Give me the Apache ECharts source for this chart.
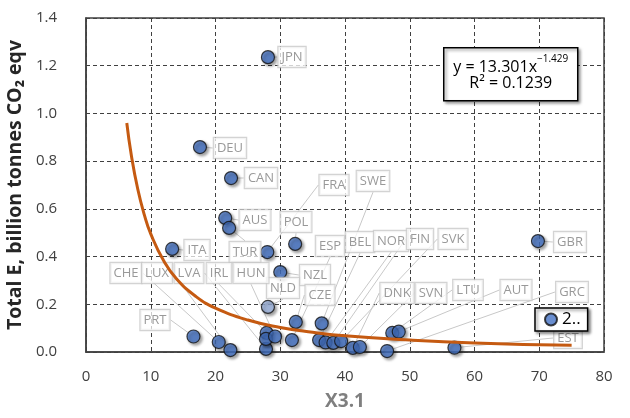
<!DOCTYPE html>
<html>
<head>
<meta charset="utf-8">
<script src="https://cdn.jsdelivr.net/npm/echarts@6/dist/echarts.min.js"></script>
<style>
  html, body { margin: 0; padding: 0; background: #fff; }
  #chart { width: 630px; height: 418px; }
</style>
</head>
<body>
<div id="chart"></div>
<script>
// countries and values
var names = ['JPN', 'DEU', 'CAN', 'AUS', 'TUR', 'POL', 'FRA', 'ITA', 'GBR', 'NZL', 'NLD',
  'SWE', 'CZE', 'PRT', 'CHE', 'LUX', 'LVA', 'IRL', '', 'HUN', 'ESP', 'BEL', 'NOR',
  'FIN', 'SVK', 'DNK', 'SVN', 'GRC', 'LTU', 'AUT', 'EST'];
var xVals = [28.1, 17.6, 22.4, 21.5, 22.1, 32.3, 28.0, 13.3, 69.8, 30.0, 28.1,
  36.4, 32.4, 16.6, 20.5, 22.3, 27.8, 27.9, 27.8, 29.2, 31.8, 36.0, 37.0,
  38.2, 39.4, 41.2, 42.3, 46.5, 47.3, 48.3, 56.9];
var yVals = [1.236, 0.859, 0.729, 0.562, 0.520, 0.453, 0.419, 0.432, 0.465, 0.335, 0.189,
  0.120, 0.126, 0.065, 0.042, 0.008, 0.013, 0.080, 0.055, 0.065, 0.050, 0.050, 0.040,
  0.038, 0.046, 0.017, 0.021, 0.004, 0.080, 0.085, 0.018];

// trend curve (power fit)
var trendX = [6.3, 7, 8, 9, 10, 12, 14, 17, 20, 25, 30, 35, 40, 50, 60, 75];
var trendY = [0.96, 0.825, 0.682, 0.576, 0.495, 0.382, 0.306, 0.232, 0.184, 0.134, 0.103,
  0.083, 0.068, 0.050, 0.038, 0.028];

var xTicks = [0, 10, 20, 30, 40, 50, 60, 70, 80];
var yTicks = [0.0, 0.2, 0.4, 0.6, 0.8, 1.0, 1.2, 1.4];

// where the label boxes sit (pixel centres)
var labelAt = {
  JPN: [292, 57], DEU: [230, 148], CAN: [261, 178], AUS: [255, 220], FRA: [334, 185],
  SWE: [373, 181], POL: [296, 222], ESP: [330, 246], BEL: [360, 242], NOR: [391, 241],
  FIN: [420, 239], SVK: [453, 239], GBR: [570, 242], ITA: [197, 250], TUR: [245, 252],
  CHE: [126, 273], LUX: [157, 273], LVA: [189, 273], IRL: [219, 273], HUN: [251, 273],
  NZL: [315, 275], NLD: [283, 288], CZE: [320, 295], PRT: [155, 320], DNK: [397, 293],
  SVN: [431, 293], LTU: [468, 290], AUT: [516, 290], GRC: [572, 292], EST: [568, 338]
};

var pts = [];
for (var i = 0; i < names.length; i++) {
  var p = { value: [xVals[i], yVals[i]], name: names[i] };
  if (names[i] === 'NLD') p.itemStyle = { color: '#9fb6e2' };
  if (!labelAt[names[i]]) {
    p.label = { show: false };
    p.labelLine = { show: false };
  }
  pts.push(p);
}
var trend = [];
for (var j = 0; j < trendX.length; j++) trend.push([trendX[j], trendY[j]]);

var font = 'Open Sans';
var myChart = echarts.init(document.getElementById('chart'));

var option = {
  animation: false,
  grid: {
    left: 86, right: 26, top: 18, bottom: 66,
    outerBoundsMode: 'none',
    show: true, borderColor: '#404040', borderWidth: 1.5
  },
  xAxis: {
    type: 'value', min: 0, max: 80, interval: 10,
    name: 'X3.1', nameLocation: 'middle', nameGap: 40,
    nameTextStyle: { fontFamily: font, fontSize: 19, fontWeight: 'bold', color: '#7f7f7f' },
    axisLine: { show: true, lineStyle: { color: '#404040', width: 1.5 } },
    axisTick: { show: false },
    axisLabel: { fontFamily: font, fontSize: 15, color: '#404040', margin: 17 },
    splitLine: { show: true, lineStyle: { type: [4, 3], color: '#404040', width: 1 } }
  },
  yAxis: {
    type: 'value', min: 0, max: 1.4, interval: 0.2,
    name: 'Total E, billion tonnes CO₂ eqv', nameLocation: 'middle', nameGap: 48,
    nameTextStyle: { fontFamily: font, fontSize: 19.5, fontWeight: 'bold', color: '#262626' },
    axisLine: { show: true, lineStyle: { color: '#404040', width: 1.5 } },
    axisTick: { show: false },
    axisLabel: {
      fontFamily: font, fontSize: 15, color: '#404040', margin: 29,
      formatter: function (v) { return v.toFixed(1); }
    },
    splitLine: { show: true, lineStyle: { type: [4, 3], color: '#404040', width: 1 } }
  },
  legend: {
    left: 535, top: 308,
    data: ['2..'],
    icon: 'circle', itemWidth: 12, itemHeight: 12, itemGap: 4,
    padding: [3, 7, 3, 9],
    backgroundColor: '#fff', borderColor: '#000', borderWidth: 1.5,
    shadowColor: 'rgba(0,0,0,0.45)', shadowBlur: 3, shadowOffsetX: 2, shadowOffsetY: 2,
    textStyle: { fontFamily: font, fontSize: 17, color: '#000' }
  },
  graphic: [{
    type: 'group', left: 443, top: 47,
    children: [{
      type: 'rect', z: 100,
      shape: { x: 0, y: 0, width: 134, height: 53 },
      style: {
        fill: '#fff', stroke: '#000', lineWidth: 1.5,
        shadowColor: 'rgba(0,0,0,0.4)', shadowBlur: 3, shadowOffsetX: 2, shadowOffsetY: 2
      }
    }, {
      type: 'text', x: 67, y: 6, z: 101,
      style: {
        text: '{a|y = 13.301x}{s|\u22121.429}',
        align: 'center',
        rich: {
          a: { fontFamily: font, fontSize: 16, fill: '#000', lineHeight: 22, verticalAlign: 'bottom' },
          s: { fontFamily: font, fontSize: 10, fill: '#000', lineHeight: 22, verticalAlign: 'top' }
        }
      }
    }, {
      type: 'text', x: 67, y: 28, z: 101,
      style: {
        text: 'R² = 0.1239', align: 'center',
        font: '16px "Open Sans"', fill: '#000'
      }
    }]
  }],
  series: [{
    name: '2..',
    type: 'scatter',
    data: pts,
    symbolSize: 13,
    z: 3,
    itemStyle: {
      color: '#4472c4', borderColor: '#111', borderWidth: 1.2,
      shadowColor: 'rgba(0,0,0,0.45)', shadowBlur: 3, shadowOffsetX: 2, shadowOffsetY: 2
    },
    label: {
      show: true,
      formatter: function (p) { return p.name; },
      fontFamily: font, fontSize: 13, color: '#7f7f7f',
      backgroundColor: 'rgba(255,255,255,0.9)', borderColor: '#c8c8c8', borderWidth: 1.2,
      padding: [4, 3, 3, 3]
    },
    labelLine: { show: true, lineStyle: { color: '#c8c8c8', width: 1 } },
    labelLayout: function (params) {
      var at = labelAt[names[params.dataIndex]];
      if (!at) return {};
      return { x: at[0], y: at[1], align: 'center', verticalAlign: 'middle' };
    }
  }, {
    name: 'trend',
    type: 'line',
    data: trend,
    smooth: true,
    symbol: 'none',
    z: 4,
    lineStyle: { color: '#c55a11', width: 3 }
  }]
};

myChart.setOption(option);
window.addEventListener('resize', function () {
  myChart.resize();
});
</script>
</body>
</html>
